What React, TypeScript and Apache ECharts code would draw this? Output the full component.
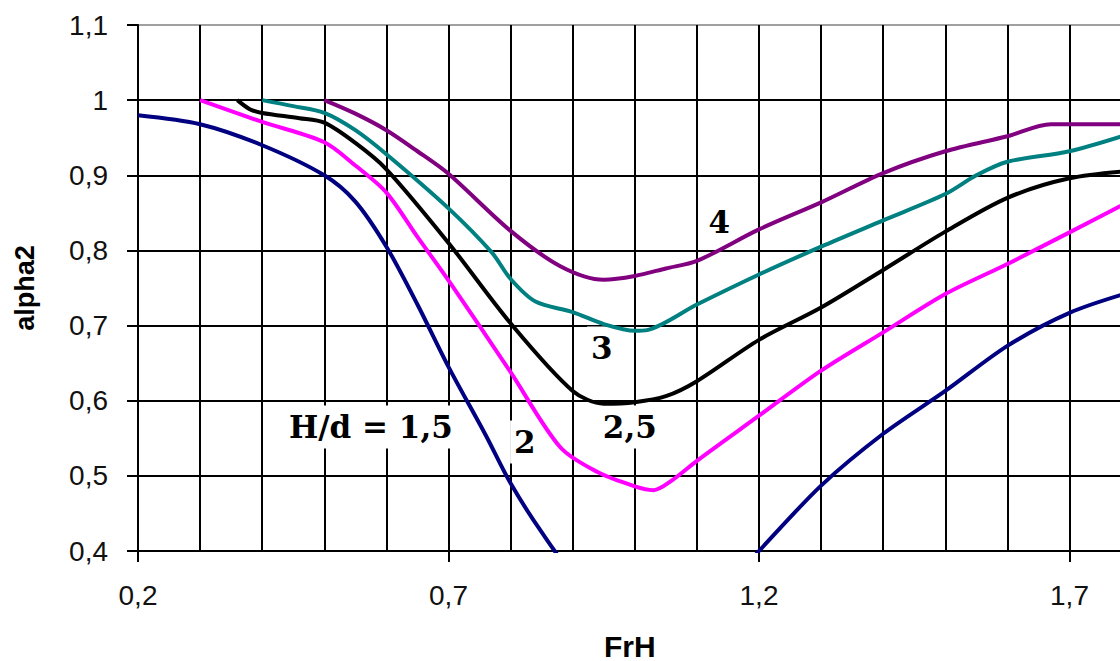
import React, { useEffect, useRef } from "react";
import * as echarts from "echarts";

// FrH values where the x-axis carries ticks and labels
const xTickValues = [0.2, 0.7, 1.2, 1.7];

// Curves alpha2(FrH) for H/d = 1.5, 2, 2.5, 3, 4  ([FrH, alpha2])
const hd15: [number, number][] = [
  [0.2, 0.98], [0.3, 0.968], [0.4, 0.94], [0.5, 0.9], [0.55, 0.865], [0.6, 0.805],
  [0.65, 0.728], [0.7, 0.645], [0.76, 0.554], [0.8, 0.49], [0.85, 0.425], [0.9, 0.37],
  [1.0, 0.3], [1.1, 0.31], [1.2, 0.4], [1.3, 0.487], [1.4, 0.556], [1.5, 0.613],
  [1.6, 0.673], [1.7, 0.717], [1.8, 0.745],
];
const hd2: [number, number][] = [
  [0.3, 1.0], [0.4, 0.971], [0.5, 0.944], [0.55, 0.913], [0.6, 0.877], [0.65, 0.818],
  [0.7, 0.76], [0.8, 0.638], [0.88, 0.538], [0.94, 0.505], [1.0, 0.486], [1.03, 0.481],
  [1.06, 0.494], [1.1, 0.52], [1.2, 0.58], [1.3, 0.64], [1.4, 0.691], [1.5, 0.742],
  [1.6, 0.782], [1.7, 0.824], [1.8, 0.867],
];
const hd25: [number, number][] = [
  [0.36, 1.0], [0.38, 0.988], [0.4, 0.983], [0.46, 0.976], [0.5, 0.97], [0.55, 0.943],
  [0.6, 0.908], [0.7, 0.81], [0.8, 0.703], [0.9, 0.613], [0.95, 0.596], [1.0, 0.598],
  [1.05, 0.606], [1.1, 0.626], [1.2, 0.681], [1.3, 0.724], [1.4, 0.774], [1.5, 0.825],
  [1.6, 0.87], [1.7, 0.896], [1.8, 0.906],
];
const hd3: [number, number][] = [
  [0.4, 1.0], [0.45, 0.992], [0.5, 0.983], [0.55, 0.96], [0.6, 0.928], [0.7, 0.856],
  [0.77, 0.797], [0.8, 0.762], [0.84, 0.732], [0.9, 0.718], [0.95, 0.702], [1.0, 0.693],
  [1.02, 0.694], [1.1, 0.728], [1.2, 0.768], [1.3, 0.805], [1.4, 0.84], [1.5, 0.875],
  [1.55, 0.9], [1.6, 0.918], [1.7, 0.932], [1.8, 0.956],
];
const hd4: [number, number][] = [
  [0.5, 1.0], [0.55, 0.982], [0.6, 0.96], [0.65, 0.932], [0.7, 0.902], [0.8, 0.826],
  [0.88, 0.779], [0.95, 0.761], [1.0, 0.766], [1.05, 0.776], [1.1, 0.786], [1.2, 0.828],
  [1.3, 0.864], [1.4, 0.903], [1.5, 0.932], [1.6, 0.952], [1.67, 0.968], [1.8, 0.968],
];

const seriesNames = ["1,5", "2", "2,5", "3", "4"];
const seriesColors = ["#000080", "#ff00ff", "#000000", "#008080", "#800080"];
const seriesData = [hd15, hd2, hd25, hd3, hd4];

// Curve annotations (text, FrH, alpha2)
const labelTexts = ["H/d = 1,5", "2", "2,5", "3", "4"];
const labelX = [0.575, 0.823, 0.992, 0.947, 1.136];
const labelY = [0.565, 0.545, 0.565, 0.67, 0.838];

const fmt = (v: number) => String(Number(v.toFixed(1))).replace(".", ",");

export default function App() {
  const ref = useRef<HTMLDivElement>(null);
  useEffect(() => {
    if (!ref.current) return;
    const chart = echarts.init(ref.current, undefined, { renderer: "svg" });
    const sans = "Liberation Sans, Arial, sans-serif";
    const axisFont = { fontSize: 28, fontFamily: sans, color: "#111" };
    const gridLine = { color: "#000", width: 2 };
    chart.setOption({
      animation: false,
      backgroundColor: "#fff",
      grid: {
        left: 138, top: 25, right: -11.6, bottom: 110,
        show: true, borderColor: "#a0a0a0", borderWidth: 2,
        outerBoundsMode: "none", containLabel: false,
      },
      xAxis: [
        {
          type: "value", min: 0.2, max: 1.8, interval: 0.1, position: "bottom",
          axisLine: { show: true, onZero: false, lineStyle: gridLine },
          axisTick: { show: false },
          axisLabel: { show: false },
          splitLine: { show: true, lineStyle: gridLine },
        },
        {
          type: "value", min: 0.2, max: 1.8, position: "bottom", offset: 0,
          axisLine: { show: false, onZero: false },
          axisTick: { show: true, length: 11, customValues: xTickValues, lineStyle: gridLine },
          axisLabel: { ...axisFont, customValues: xTickValues, margin: 30, formatter: fmt },
          splitLine: { show: false },
          name: "FrH", nameLocation: "middle", nameGap: 80,
          nameTextStyle: { fontWeight: "bold", fontSize: 30, fontFamily: sans, color: "#000", padding: [0, 10, 0, 0] },
        },
      ],
      yAxis: {
        type: "value", min: 0.4, max: 1.1, interval: 0.1,
        axisLine: { show: true, onZero: false, lineStyle: gridLine },
        axisTick: { show: true, length: 11, lineStyle: gridLine },
        axisLabel: { ...axisFont, margin: 30, formatter: fmt },
        splitLine: { show: true, showMaxLine: false, lineStyle: gridLine },
        name: "alpha2", nameLocation: "middle", nameRotate: 90, nameGap: 100,
        nameTextStyle: { fontWeight: "bold", fontSize: 27, fontFamily: sans, color: "#000" },
      },
      series: [
        ...seriesData.map((d, i) => ({
          type: "line",
          name: seriesNames[i],
          data: d,
          xAxisIndex: 0,
          smooth: 0.3,
          showSymbol: false,
          clip: true,
          z: 3,
          lineStyle: { color: seriesColors[i], width: 4 },
          itemStyle: { color: seriesColors[i] },
        })),
        {
          type: "scatter",
          xAxisIndex: 0,
          z: 1,
          symbolSize: 0,
          silent: true,
          itemStyle: { color: "#000", opacity: 1 },
          data: labelTexts.map((t, i) => ({ value: [labelX[i], labelY[i]], name: t })),
          label: {
            show: true,
            position: "inside",
            formatter: (p: any) => p.name,
            fontFamily: "DejaVu Serif, Liberation Serif, serif",
            fontWeight: "bold",
            fontSize: 31,
            color: "#000",
            opacity: 1,
            textBorderWidth: 0,
            textBorderColor: "transparent",
            backgroundColor: "#fff",
            padding: [6, 4],
          },
        },
      ],
    });
    return () => chart.dispose();
  }, []);
  return (
    <div
      ref={ref}
      style={{ position: "absolute", left: 0, top: 0, width: 1120, height: 661 }}
    />
  );
}
